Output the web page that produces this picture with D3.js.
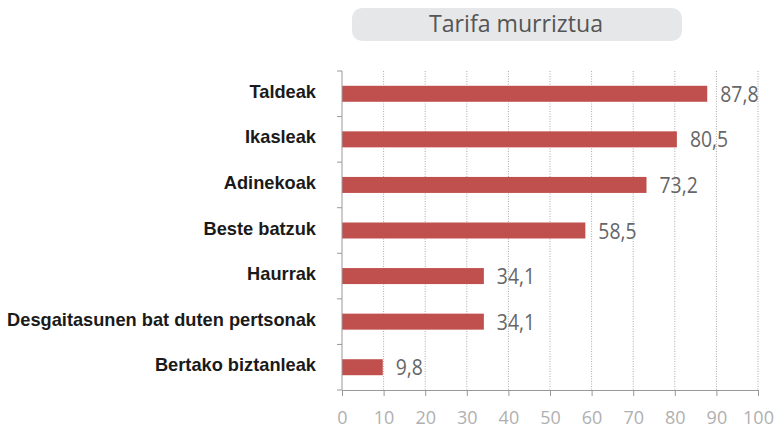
<!DOCTYPE html>
<html>
<head>
<meta charset="utf-8">
<script src="https://cdn.jsdelivr.net/npm/d3@7"></script>
<style>
  body { margin: 0; background: #fff; }
  .cat { font-family: "Liberation Sans Narrow", "Liberation Sans", Arial, sans-serif; font-weight: bold; font-size: 19px; fill: #1a1a1a; }
  .val { font-family: "Open Sans", sans-serif; font-size: 22px; fill: #666; }
  .tick-lbl { font-family: "Open Sans", sans-serif; font-size: 18px; fill: #b0b0b0; }
</style>
</head>
<body>
<div id="chart"></div>
<script>
// data
const categories = ["Taldeak", "Ikasleak", "Adinekoak", "Beste batzuk", "Haurrak",
  "Desgaitasunen bat duten pertsonak", "Bertako biztanleak"];
const values = [87.8, 80.5, 73.2, 58.5, 34.1, 34.1, 9.8];
const xTicks = [0, 10, 20, 30, 40, 50, 60, 70, 80, 90, 100];
const title = "Tarifa murriztua";

const width = 779, height = 428;
const margin = { top: 71, bottom: 38, left: 342, right: 21 };

const svg = d3.select("#chart").append("svg")
  .attr("width", width)
  .attr("height", height);

// title box
svg.append("rect")
  .attr("x", 352).attr("y", 8)
  .attr("width", 330).attr("height", 33)
  .attr("rx", 10)
  .attr("fill", "#e6e7e8");
svg.append("text")
  .attr("x", 429).attr("y", 32)
  .attr("textLength", 174)
  .attr("lengthAdjust", "spacingAndGlyphs")
  .style("font-family", "'Open Sans', sans-serif")
  .style("font-size", "24px")
  .attr("fill", "#555")
  .text(title);

/** SCALES */
const xScale = d3.scaleLinear()
  .domain([0, 100])
  .range([margin.left, width - margin.right]);

const yScale = d3.scaleBand()
  .domain(categories)
  .range([margin.top, height - margin.bottom]);

const barH = 16;
const mid = (i) => yScale(categories[i]) + yScale.bandwidth() / 2;

// grid lines
svg.append("g")
  .selectAll("line")
  .data(xTicks.slice(1))
  .join("line")
  .attr("x1", d => xScale(d)).attr("x2", d => xScale(d))
  .attr("y1", margin.top).attr("y2", height - margin.bottom)
  .attr("stroke", "#aaa")
  .attr("stroke-dasharray", "1,1.5");

// bars
svg.append("g")
  .selectAll("rect")
  .data(values)
  .join("rect")
  .attr("x", xScale(0))
  .attr("y", (d, i) => mid(i) - barH / 2)
  .attr("width", d => xScale(d) - xScale(0))
  .attr("height", barH)
  .attr("fill", "#c0504d");

// value labels (narrowed a bit, like the original face)
svg.append("g")
  .selectAll("text")
  .data(values)
  .join("text")
  .attr("class", "val")
  .attr("transform", (d, i) => `translate(${xScale(d) + 13},${mid(i) + 8}) scale(0.88,1)`)
  .text(d => d3.format(".1f")(d).replace(".", ","));

// y axis
const yAxis = d3.axisLeft(yScale).tickSize(0).tickFormat("");
const yG = svg.append("g")
  .attr("transform", `translate(${margin.left},0)`)
  .call(yAxis);
yG.select(".domain").attr("stroke", "#999").attr("d", `M0,${margin.top}V${height - margin.bottom}`);
yG.selectAll(".bnd")
  .data(categories.concat([null]))
  .join("line")
  .attr("x1", -5).attr("x2", 0)
  .attr("y1", (d, i) => margin.top + i * yScale.step())
  .attr("y2", (d, i) => margin.top + i * yScale.step())
  .attr("stroke", "#999");

// category labels
svg.append("g")
  .selectAll("text")
  .data(categories)
  .join("text")
  .attr("class", "cat")
  .attr("text-anchor", "end")
  .attr("transform", (d, i) => `translate(316,${mid(i) + 4}) scale(0.96,1)`)
  .text(d => d);

// x axis
const xAxis = d3.axisBottom(xScale).tickValues(xTicks).tickSize(6).tickFormat(d => d);
const xG = svg.append("g")
  .attr("transform", `translate(0,${height - margin.bottom})`)
  .call(xAxis);
xG.select(".domain").attr("stroke", "#999");
xG.selectAll(".tick line").attr("stroke", "#999");
xG.selectAll(".tick text")
  .attr("class", "tick-lbl")
  .attr("y", 34)
  .attr("dy", 0)
  .attr("fill", null);
</script>
</body>
</html>
